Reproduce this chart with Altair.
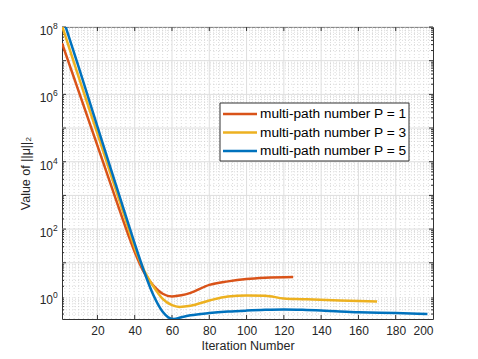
import altair as alt
import pandas as pd

W, H = 371, 292
FONT = "Liberation Sans"

series = ["multi-path number P = 1", "multi-path number P = 3", "multi-path number P = 5"]
colors = ["#D95319", "#EDB120", "#0072BD"]

p1_iter = [1, 10, 20, 30, 35, 40, 45, 50, 55, 60, 65, 70, 80, 90, 100, 110, 125]
p1_val = [3.3e7, 1.2e6, 3.0e4, 740, 117, 21, 5.2, 2.1, 1.2, 1.0, 1.08, 1.28, 2.2, 2.8, 3.3, 3.6, 3.8]

p3_iter = [1, 10, 20, 30, 35, 40, 45, 50, 55, 60, 64, 70, 80, 90, 100, 110, 120, 130, 150, 170]
p3_val = [1.1e8, 3.2e6, 6.8e4, 1400, 200, 28, 6.0, 2.0, 0.85, 0.55, 0.49, 0.53, 0.76, 1.0, 1.07, 1.05, 0.87, 0.83, 0.76, 0.71]

p5_iter = [1, 10, 20, 30, 35, 40, 45, 50, 55, 58, 61, 65, 70, 80, 90, 100, 110, 120, 130, 140, 150, 160, 180, 197]
p5_val = [2.2e8, 6.3e6, 1.1e5, 2000, 270, 37, 5.6, 1.1, 0.35, 0.24, 0.214, 0.24, 0.275, 0.32, 0.355, 0.38, 0.40, 0.41,
          0.40, 0.38, 0.355, 0.34, 0.32, 0.30]

x_ticks = [20, 40, 60, 80, 100, 120, 140, 160, 180, 200]
x_minor = [v / 2 for v in range(5, 400, 5) if (v / 2) % 20 != 0]
y_labels = [1, 1e2, 1e4, 1e6, 1e8]
y_label_exp = ["0", "2", "4", "6", "8"]
y_decades = [1, 1e1, 1e2, 1e3, 1e4, 1e5, 1e6, 1e7, 1e8]
y_minor = [m * 10.0 ** k for k in range(-1, 8) for m in range(2, 10) if 0.214 < m * 10.0 ** k < 1e8]

X_DOMAIN = [1, 200]
Y_DOMAIN = [0.214, 1e8]

rows = []
for name, its, vals in zip(series, [p1_iter, p3_iter, p5_iter], [p1_val, p3_val, p5_val]):
    for i, v in zip(its, vals):
        rows.append({"x": i, "y": v, "series": name})
df = pd.DataFrame(rows)

xs = alt.Scale(domain=X_DOMAIN, nice=False, zero=False)
ys = alt.Scale(type="log", domain=Y_DOMAIN, nice=False)

AX = dict(ticks=False, grid=False, domain=False,
          labelFont=FONT, labelFontSize=12, labelColor="#262626",
          titleFont=FONT, titleFontSize=12.5, titleFontWeight="normal", titleColor="#262626")
x_axis = alt.Axis(values=x_ticks, labelPadding=6, titlePadding=3, **AX)
y_axis = alt.Axis(values=y_labels, labels=False, titlePadding=30, **AX)
X_TITLE = "Iteration Number"
Y_TITLE = "Value of ||μ||₂"


def xenc():
    return alt.X("x:Q", scale=xs, axis=x_axis, title=X_TITLE)


def yenc():
    return alt.Y("y:Q", scale=ys, axis=y_axis, title=Y_TITLE)


xminor_df = pd.DataFrame({"x": x_minor})
xmajor_df = pd.DataFrame({"x": x_ticks[:-1]})
yminor_df = pd.DataFrame({"y": y_minor})
ymajor_df = pd.DataFrame({"y": y_decades[1:]})
ylab_df = pd.DataFrame({"y": y_labels, "e": y_label_exp})

grid_x_minor = alt.Chart(xminor_df).mark_rule(color="#cccccc", strokeDash=[1, 2], strokeWidth=0.7).encode(x=xenc())
grid_y_minor = alt.Chart(yminor_df).mark_rule(color="#cccccc", strokeDash=[1, 2], strokeWidth=0.7).encode(y=yenc())
grid_x_major = alt.Chart(xmajor_df).mark_rule(color="#dedede", strokeWidth=1).encode(x=xenc())
grid_y_major = alt.Chart(ymajor_df).mark_rule(color="#dedede", strokeWidth=1).encode(y=yenc())

lines = alt.Chart(df).mark_line(strokeWidth=2.5, interpolate="monotone", clip=True).encode(
    x=xenc(),
    y=yenc(),
    color=alt.Color("series:N", scale=alt.Scale(domain=series, range=colors), legend=None),
)

# y tick labels: "10" with superscript exponent
ylab_base = alt.Chart(ylab_df).mark_text(align="right", baseline="middle", dy=4, font=FONT, fontSize=12,
                                          color="#262626").encode(y=yenc(), x=alt.value(-9), text=alt.value("10"))
ylab_exp = alt.Chart(ylab_df).mark_text(align="left", baseline="middle", dy=-1, font=FONT, fontSize=8.5,
                                         color="#262626").encode(y=yenc(), x=alt.value(-9), text="e:N")

tick_len, minor_len = 4, 2
ticks = [
    alt.Chart(xmajor_df).mark_rule(color="#333333").encode(x=xenc(), y=alt.value(H), y2=alt.value(H - tick_len)),
    alt.Chart(xmajor_df).mark_rule(color="#333333").encode(x=xenc(), y=alt.value(0), y2=alt.value(tick_len)),
    alt.Chart(ymajor_df).mark_rule(color="#333333").encode(y=yenc(), x=alt.value(0), x2=alt.value(tick_len)),
    alt.Chart(ymajor_df).mark_rule(color="#333333").encode(y=yenc(), x=alt.value(W), x2=alt.value(W - tick_len)),
    alt.Chart(yminor_df).mark_rule(color="#333333").encode(y=yenc(), x=alt.value(0), x2=alt.value(minor_len)),
    alt.Chart(yminor_df).mark_rule(color="#333333").encode(y=yenc(), x=alt.value(W), x2=alt.value(W - minor_len)),
]

# legend box (drawn in plot pixel space)
LX, LY, LW, LH, ROW = 158, 76, 189, 58, 18.5
legend_layers = [
    alt.Chart(pd.DataFrame({"k": [0]})).mark_rect(fill="white", stroke="#333333", strokeWidth=1).encode(
        x=alt.value(LX), x2=alt.value(LX + LW), y=alt.value(LY), y2=alt.value(LY + LH))
]
for i, (name, col) in enumerate(zip(series, colors)):
    ld = pd.DataFrame({"series": [name]})
    yy = LY + 11 + ROW * i
    legend_layers.append(alt.Chart(ld).mark_rule(color=col, strokeWidth=2.5).encode(
        x=alt.value(LX + 3), x2=alt.value(LX + 37), y=alt.value(yy)))
    legend_layers.append(alt.Chart(ld).mark_text(align="left", baseline="middle", font=FONT, fontSize=13.7,
                                                 color="#000000").encode(
        x=alt.value(LX + 40), y=alt.value(yy), text="series:N"))

chart = alt.layer(grid_x_minor, grid_y_minor, grid_x_major, grid_y_major, *ticks, lines,
                  ylab_base, ylab_exp, *legend_layers).properties(
    width=W, height=H,
    background="white",
    autosize=alt.AutoSizeParams(type="none"),
    padding={"left": 54, "top": 19, "right": 37, "bottom": 32},
).configure_view(stroke="#333333", strokeWidth=1)

chart.save("out.html", embed_options={"renderer": "svg", "actions": False})
